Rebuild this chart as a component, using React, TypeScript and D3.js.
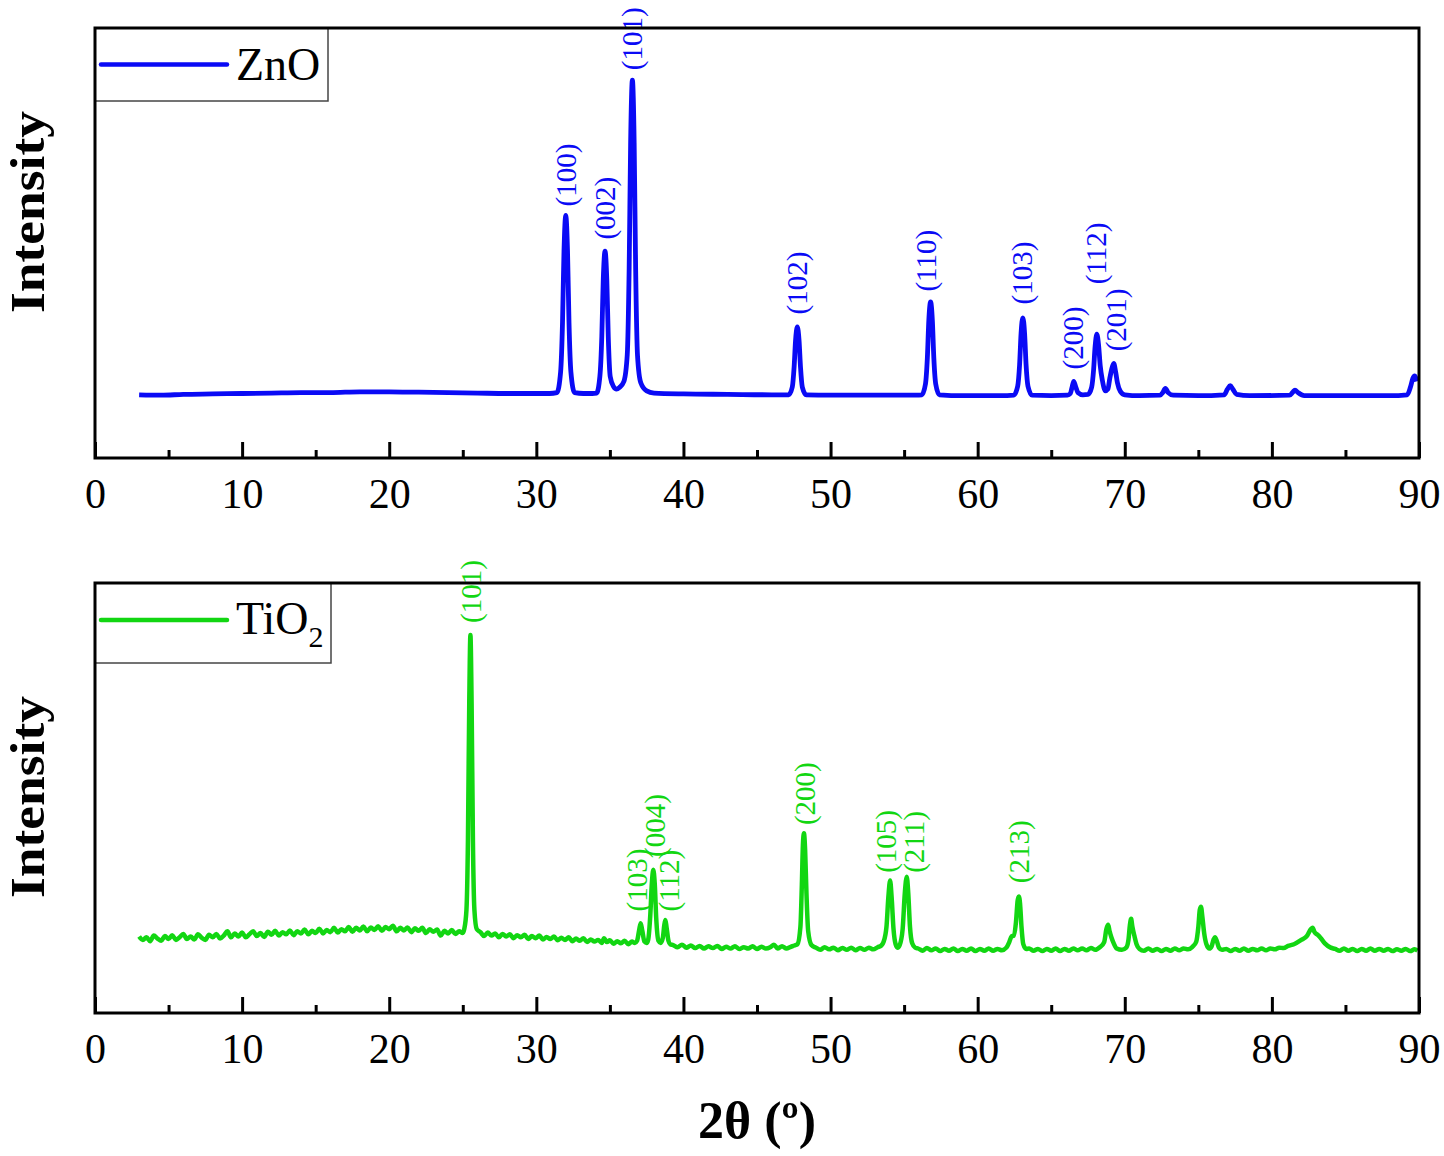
import { useEffect, useRef } from "react";
import * as d3 from "d3";

// XRD patterns: [2θ (deg), intensity (a.u., 0-1000 of panel height)]
const znoPattern: [number, number][] = [
  [3, 147], [4.5, 146], [6, 148], [8, 149], [10, 150], [12, 151], [14, 152], [16, 152], [18, 154],
  [20, 154], [22, 153], [24, 152], [26, 151], [28, 150], [30, 150], [30.9, 150],
  [31.4, 152], [31.65, 200], [31.78, 316], [31.88, 481], [32.0, 564], [32.12, 481], [32.22, 316], [32.35, 200], [32.6, 152],
  [33.2, 150], [33.8, 150],
  [34.1, 151], [34.32, 190], [34.45, 282], [34.55, 415], [34.67, 481], [34.79, 415], [34.89, 282], [35.02, 190], [35.25, 166],
  [35.45, 160],
  [35.65, 164], [35.95, 178], [36.18, 240], [36.31, 442], [36.41, 733], [36.53, 879], [36.65, 733], [36.75, 442], [36.88, 237], [37.1, 175],
  [37.5, 156], [38, 151], [40, 149], [43, 148], [46, 147],
  [47.15, 147], [47.4, 165], [47.52, 210], [47.62, 273], [47.74, 305], [47.86, 273], [47.96, 210], [48.08, 165], [48.35, 147],
  [50, 146], [53, 146], [55.8, 146],
  [56.2, 147], [56.45, 172], [56.58, 233], [56.68, 320], [56.8, 363], [56.92, 320], [57.02, 233], [57.15, 172], [57.4, 147],
  [59, 145], [62, 145],
  [62.45, 146], [62.72, 167], [62.85, 217], [62.95, 290], [63.07, 326], [63.19, 290], [63.29, 217], [63.42, 167], [63.7, 146],
  [65, 145], [66.1, 146],
  [66.3, 150], [66.42, 165], [66.53, 178], [66.66, 166], [66.82, 152], [67.15, 147],
  [67.5, 148], [67.75, 165], [67.88, 205], [67.98, 258], [68.1, 288], [68.22, 262], [68.33, 215], [68.48, 180], [68.68, 156],
  [68.85, 160], [68.98, 185], [69.1, 205], [69.25, 220], [69.38, 200], [69.5, 175], [69.7, 155], [70, 147],
  [71, 145], [72.4, 146],
  [72.58, 152], [72.76, 162], [72.95, 152], [73.3, 146],
  [75, 145], [76.75, 147], [76.98, 160], [77.17, 168], [77.35, 160], [77.6, 148], [78.5, 145],
  [81.2, 146], [81.42, 153], [81.57, 158], [81.78, 152], [82.2, 145],
  [85, 145], [88, 145], [89.2, 147], [89.42, 165], [89.58, 185], [89.7, 191], [89.85, 178],
];

const tio2Pattern: [number, number][] = [
  [3.0, 178], [3.25, 170], [3.5, 176], [3.75, 167], [4.0, 180], [4.25, 173], [4.5, 168], [4.75, 179], [5.0, 172],
  [5.25, 181], [5.5, 170], [5.75, 176], [6.0, 184], [6.25, 172], [6.5, 178], [6.75, 171], [7.0, 183], [7.25, 175],
  [7.5, 170], [7.75, 182], [8.0, 176], [8.25, 184], [8.5, 173], [8.75, 180], [9.0, 190], [9.25, 176], [9.5, 185],
  [9.75, 178], [10.0, 187], [10.25, 176], [10.5, 183], [10.75, 190], [11.0, 179], [11.25, 186], [11.5, 177],
  [11.75, 189], [12.0, 182], [12.25, 191], [12.5, 180], [12.75, 188], [13.0, 183], [13.25, 192], [13.5, 181],
  [13.75, 190], [14.0, 185], [14.25, 194], [14.5, 183], [14.75, 191], [15.0, 186], [15.25, 196], [15.5, 185],
  [15.75, 193], [16.0, 188], [16.25, 198], [16.5, 187], [16.75, 195], [17.0, 190], [17.25, 200], [17.5, 189],
  [17.75, 198], [18.0, 192], [18.25, 201], [18.5, 190], [18.75, 199], [19.0, 193], [19.25, 202], [19.5, 191],
  [19.75, 200], [20.0, 195], [20.25, 203], [20.5, 190], [20.75, 198], [21.0, 192], [21.25, 199], [21.5, 188],
  [21.75, 197], [22.0, 191], [22.25, 198], [22.5, 186], [22.75, 195], [23.0, 189], [23.25, 194], [23.5, 180],
  [23.75, 191], [24.0, 185], [24.25, 193], [24.5, 184], [24.75, 190], [25.0, 186],
  [25.1, 195], [25.25, 240], [25.35, 400], [25.44, 720], [25.52, 879], [25.6, 720], [25.69, 400], [25.79, 240], [25.95, 195],
  [26.2, 188], [26.45, 179], [26.7, 187], [26.95, 180], [27.2, 185], [27.45, 176], [27.7, 184], [27.95, 178],
  [28.2, 183], [28.45, 174], [28.7, 181], [28.95, 176], [29.2, 182], [29.45, 172], [29.7, 179], [29.95, 174],
  [30.2, 180], [30.45, 171], [30.7, 177], [30.95, 172], [31.2, 178], [31.45, 169], [31.7, 175], [31.95, 170],
  [32.2, 176], [32.45, 167], [32.7, 173], [32.95, 168], [33.2, 174], [33.45, 165], [33.7, 171], [33.95, 166],
  [34.2, 170], [34.45, 163], [34.6, 174], [34.8, 165], [35.0, 169], [35.25, 161], [35.5, 167], [35.75, 162],
  [36.0, 168], [36.25, 160], [36.5, 166], [36.7, 163],
  [36.85, 168], [37.0, 195], [37.09, 209], [37.2, 192], [37.35, 166], [37.5, 163],
  [37.6, 170], [37.75, 230], [37.85, 300], [37.95, 333], [38.05, 300], [38.15, 220], [38.3, 168], [38.45, 163],
  [38.6, 175], [38.7, 205], [38.77, 216], [38.85, 200], [38.98, 168], [39.1, 160],
  [39.3, 158], [39.6, 153], [39.9, 159], [40.2, 152], [40.5, 157], [40.8, 151], [41.1, 156], [41.4, 150],
  [41.7, 155], [42.0, 151], [42.3, 156], [42.6, 149], [42.9, 154], [43.2, 150], [43.5, 155], [43.8, 149],
  [44.1, 153], [44.4, 150], [44.7, 155], [45.0, 149], [45.3, 154], [45.6, 150], [45.9, 153], [46.15, 159],
  [46.4, 150], [46.7, 155], [47.0, 150], [47.3, 154], [47.55, 157],
  [47.75, 160], [47.95, 200], [48.05, 300], [48.12, 390], [48.19, 418], [48.27, 380], [48.36, 280], [48.48, 190], [48.7, 158],
  [49.0, 152], [49.3, 147], [49.6, 153], [49.9, 148], [50.2, 152], [50.5, 146], [50.8, 151], [51.1, 147],
  [51.4, 152], [51.7, 146], [52.0, 151], [52.3, 147], [52.6, 152], [52.9, 148], [53.2, 153], [53.45, 157],
  [53.6, 165], [53.8, 200], [53.93, 270], [54.05, 308], [54.15, 270], [54.28, 195], [54.42, 160], [54.55, 152],
  [54.7, 158], [54.9, 195], [55.05, 280], [55.18, 317], [55.28, 280], [55.4, 200], [55.55, 162], [55.75, 152],
  [55.95, 150], [56.25, 145], [56.55, 151], [56.85, 146], [57.15, 150], [57.45, 144], [57.75, 149], [58.05, 145],
  [58.35, 150], [58.65, 144], [58.95, 149], [59.25, 145], [59.55, 150], [59.85, 144], [60.15, 149], [60.45, 145],
  [60.75, 150], [61.05, 145], [61.35, 149], [61.65, 146], [61.95, 152],
  [62.15, 165], [62.3, 178], [62.45, 180], [62.6, 210], [62.72, 262], [62.8, 271], [62.88, 255], [62.98, 200], [63.1, 160], [63.3, 149],
  [63.5, 150], [63.8, 145], [64.1, 149], [64.4, 144], [64.7, 149], [65.0, 145], [65.3, 150], [65.6, 144],
  [65.9, 149], [66.2, 145], [66.5, 150], [66.8, 146], [67.1, 150], [67.4, 146], [67.7, 151], [68.0, 147], [68.3, 153],
  [68.6, 165], [68.75, 195], [68.87, 205], [68.97, 190], [69.1, 175], [69.25, 162], [69.45, 150],
  [69.8, 147], [70.1, 152],
  [70.25, 170], [70.35, 205], [70.43, 219], [70.52, 200], [70.65, 180], [70.8, 160], [71.0, 149],
  [71.3, 145], [71.6, 150], [71.9, 145], [72.2, 149], [72.5, 144], [72.8, 149], [73.1, 145], [73.4, 150],
  [73.7, 146], [74.0, 150], [74.3, 148], [74.6, 154],
  [74.85, 165], [75.0, 200], [75.1, 240], [75.18, 247], [75.27, 225], [75.4, 185], [75.55, 160], [75.75, 150],
  [75.9, 155], [76.05, 172], [76.13, 176], [76.25, 168], [76.4, 152], [76.6, 147],
  [76.9, 149], [77.2, 144], [77.5, 149], [77.8, 145], [78.1, 150], [78.4, 145], [78.7, 149], [79.0, 146],
  [79.3, 150], [79.6, 146], [79.9, 150], [80.2, 148], [80.5, 152], [80.8, 151], [81.1, 156],
  [81.5, 160], [82.0, 170], [82.4, 180], [82.65, 195], [82.77, 198], [82.9, 188], [83.1, 182], [83.3, 175], [83.6, 162], [84.0, 152],
  [84.3, 149], [84.6, 145], [84.9, 150], [85.2, 145], [85.5, 149], [85.8, 144], [86.1, 149], [86.4, 145],
  [86.7, 150], [87.0, 145], [87.3, 149], [87.6, 145], [87.9, 149], [88.2, 144], [88.5, 148], [88.8, 145],
  [89.1, 149], [89.4, 144], [89.7, 148], [89.9, 145],
];

// Miller index labels: [label, 2θ, intensity at label foot]
const znoPeakLabels: [string, number, number][] = [
  ["(100)", 32.04, 585], ["(002)", 34.71, 508], ["(101)", 36.54, 902], ["(102)", 47.77, 334],
  ["(110)", 56.55, 387], ["(103)", 63.05, 357], ["(200)", 66.53, 206], ["(112)", 68.1, 404], ["(201)", 69.4, 248],
];
const tio2PeakLabels: [string, number, number][] = [
  ["(101)", 25.61, 907], ["(103)", 36.85, 236], ["(004)", 38.07, 363], ["(112)", 39.06, 236],
  ["(200)", 48.32, 437], ["(105)", 53.83, 326], ["(211)", 55.68, 326], ["(213)", 62.81, 302],
];

const majorTicks = [0, 10, 20, 30, 40, 50, 60, 70, 80, 90];
const minorTicks = [5, 15, 25, 35, 45, 55, 65, 75, 85];

const W = 1444;
const H = 1156;
const FONT = "'Liberation Serif', 'Times New Roman', serif";

export default function App() {
  const svgRef = useRef<SVGSVGElement>(null);

  useEffect(() => {
    if (!svgRef.current) return;
    const svg = d3.select(svgRef.current);
    svg.selectAll("*").remove();

    const left = 95;
    const right = 1419;
    const x = d3.scaleLinear().domain([0, 90]).range([left, right]);

    const panels = [
      { top: 28, bottom: 458, data: znoPattern, labels: znoPeakLabels, color: "#0a0af5", name: "ZnO", legendW: 233, legendH: 73, yTitle: 212 },
      { top: 583, bottom: 1013, data: tio2Pattern, labels: tio2PeakLabels, color: "#12d612", name: "TiO", legendW: 236, legendH: 80, yTitle: 797 },
    ];

    panels.forEach((p, idx) => {
      const y = d3.scaleLinear().domain([0, 1000]).range([p.bottom, p.top]);
      const g = svg.append("g");

      // legend box (drawn first so the frame sits on top)
      g.append("rect")
        .attr("x", left)
        .attr("y", p.top)
        .attr("width", p.legendW)
        .attr("height", p.legendH)
        .attr("fill", "#fff")
        .attr("stroke", "#444")
        .attr("stroke-width", 1.5);
      const ly = p.top + (idx === 0 ? 36.5 : 37);
      g.append("line")
        .attr("x1", left + 6)
        .attr("x2", left + 132)
        .attr("y1", ly)
        .attr("y2", ly)
        .attr("stroke", p.color)
        .attr("stroke-width", 4.5)
        .attr("stroke-linecap", "round");
      const lt = g.append("text")
        .attr("x", left + 141)
        .attr("y", p.top + (idx === 0 ? 52 : 51))
        .attr("font-family", FONT)
        .attr("font-size", 46)
        .attr("fill", "#000")
        .text(p.name);
      if (idx === 1) {
        lt.append("tspan").attr("font-size", 30).attr("dy", 13).text("2");
      }

      // pattern
      const line = d3
        .line<[number, number]>()
        .x((d) => x(d[0]))
        .y((d) => y(d[1]))
        .curve(d3.curveMonotoneX);
      g.append("path")
        .datum(p.data)
        .attr("d", line)
        .attr("fill", "none")
        .attr("stroke", p.color)
        .attr("stroke-width", idx === 0 ? 4.8 : 4.5)
        .attr("stroke-linejoin", "round");

      // peak labels
      g.selectAll(".pk")
        .data(p.labels)
        .enter()
        .append("text")
        .attr("transform", (d) => `translate(${x(d[1])},${y(d[2])}) rotate(-90)`)
        .attr("dy", "0.33em")
        .attr("font-family", FONT)
        .attr("font-size", 29)
        .attr("fill", p.color)
        .text((d) => d[0]);

      // bottom axis: major + minor ticks pointing inward
      const axMajor = d3
        .axisBottom(x)
        .tickValues(majorTicks)
        .tickSizeInner(-16)
        .tickSizeOuter(0)
        .tickPadding(20)
        .tickFormat(d3.format("d"));
      const gm = g.append("g").attr("transform", `translate(0,${p.bottom})`).call(axMajor);
      gm.select(".domain").remove();
      gm.selectAll("line").attr("stroke", "#000").attr("stroke-width", 3);
      gm.selectAll("text")
        .attr("font-family", FONT)
        .attr("font-size", 42)
        .attr("fill", "#000");

      const axMinor = d3.axisBottom(x).tickValues(minorTicks).tickSizeInner(-8).tickSizeOuter(0).tickFormat(() => "");
      const gn = g.append("g").attr("transform", `translate(0,${p.bottom})`).call(axMinor);
      gn.select(".domain").remove();
      gn.selectAll("line").attr("stroke", "#000").attr("stroke-width", 3);

      // frame
      g.append("rect")
        .attr("x", left)
        .attr("y", p.top)
        .attr("width", right - left)
        .attr("height", p.bottom - p.top)
        .attr("fill", "none")
        .attr("stroke", "#000")
        .attr("stroke-width", 3);

      // y title
      g.append("text")
        .attr("transform", `translate(44,${p.yTitle}) rotate(-90)`)
        .attr("text-anchor", "middle")
        .attr("font-family", FONT)
        .attr("font-weight", "bold")
        .attr("font-size", 49)
        .attr("textLength", 202)
        .attr("lengthAdjust", "spacingAndGlyphs")
        .attr("fill", "#000")
        .text("Intensity");
    });

    svg.append("text")
      .attr("x", (left + right) / 2)
      .attr("y", 1138)
      .attr("text-anchor", "middle")
      .attr("font-family", FONT)
      .attr("font-weight", "bold")
      .attr("font-size", 52)
      .attr("fill", "#000")
      .text("2θ (º)");
  }, []);

  return (
    <svg
      ref={svgRef}
      width={W}
      height={H}
      style={{ position: "absolute", left: 0, top: 0, background: "#fff" }}
    />
  );
}
